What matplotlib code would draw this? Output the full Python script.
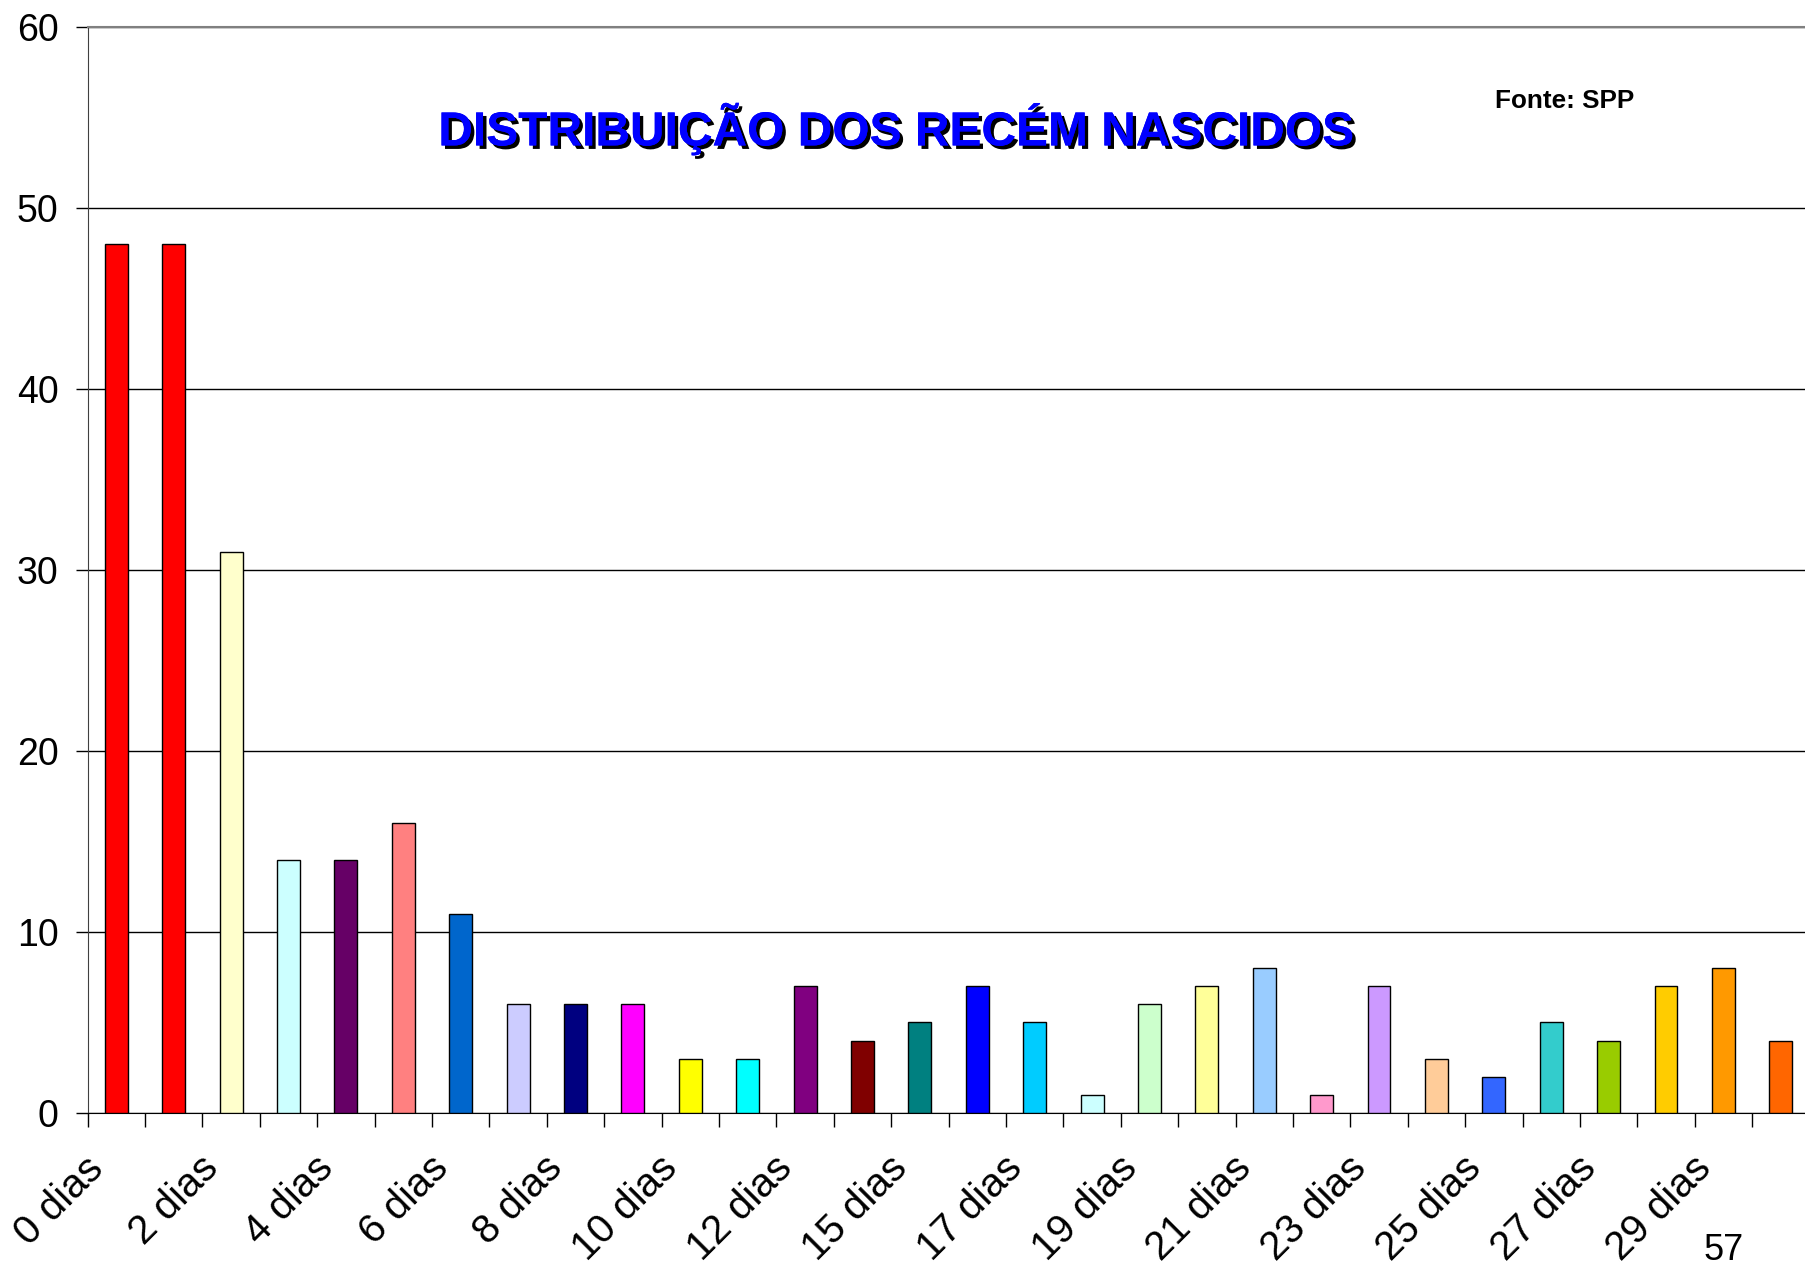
import matplotlib
matplotlib.use("Agg")
import matplotlib.pyplot as plt
import matplotlib.patheffects as pe
import matplotlib.transforms as mtransforms
import numpy as np

plt.rcParams['font.family'] = ['Liberation Sans', 'DejaVu Sans']

# dados (dias de vida e numero de recem nascidos)
dias = [0, 1, 2, 3, 4, 5, 6, 7, 8, 9, 10, 11, 12, 13, 15, 16, 17, 18, 19, 20,
        21, 22, 23, 24, 25, 26, 27, 28, 29, 30]
rotulos = [f"{d} dias" for d in dias]
valores = [48, 48, 31, 14, 14, 16, 11, 6, 6, 6, 3, 3, 7, 4, 5, 7, 5, 1, 6, 7,
           8, 1, 7, 3, 2, 5, 4, 7, 8, 4]
cores = ["#FF0000", "#FF0000", "#FFFFCC", "#CCFFFF", "#660066", "#FF8080",
         "#0066CC", "#CCCCFF", "#000080", "#FF00FF", "#FFFF00", "#00FFFF",
         "#800080", "#800000", "#008080", "#0000FF", "#00CCFF", "#CCFFFF",
         "#CCFFCC", "#FFFF99", "#99CCFF", "#FF99CC", "#CC99FF", "#FFCC99",
         "#3366FF", "#33CCCC", "#99CC00", "#FFCC00", "#FF9900", "#FF6600"]

fig = plt.figure(figsize=(18.05, 12.73), dpi=100)
ax = fig.add_axes([0.0485, 0.1257, 0.954, 0.853])

x = np.arange(len(valores))
ax.bar(x, valores, width=0.4, color=cores, edgecolor="black", linewidth=1, zorder=3)

ax.set_xlim(-0.5, len(valores) - 0.5)
ax.set_ylim(0, 60)
ax.set_yticks(range(0, 61, 10))
ax.yaxis.grid(True, color="black", linewidth=1, zorder=0)
ax.set_axisbelow(True)

# marcas nos limites das categorias, rotulos em categorias alternadas
ax.set_xticks(np.arange(-0.5, len(valores), 1))
ax.set_xticklabels([])
ax.set_xticks(x[::2], minor=True)
ax.set_xticklabels(rotulos[::2], minor=True, rotation=45, ha="right",
                   rotation_mode="anchor", fontsize=29)
ax.tick_params(axis="x", which="minor", length=0, pad=26)
ax.tick_params(axis="x", which="major", length=10, width=1, direction="out")
ax.tick_params(axis="y", length=9, width=1, direction="out", pad=12, labelsize=27)

desloc = mtransforms.ScaledTranslation(-0.32, 0, fig.dpi_scale_trans)
for lab in ax.get_xticklabels(minor=True):
    lab.set_transform(lab.get_transform() + desloc)

ax.spines["right"].set_visible(False)
ax.spines["top"].set_color("#808080")
ax.spines["top"].set_linewidth(1.5)
ax.spines["left"].set_color("#404040")
ax.spines["bottom"].set_color("black")

fig.text(0.4964, 0.8987, "DISTRIBUIÇÃO DOS RECÉM NASCIDOS", fontsize=34.5,
         fontweight="bold", color="#0000FF", ha="center", va="center",
         path_effects=[pe.withSimplePatchShadow(offset=(2.5, -2.5),
                                                shadow_rgbFace="black", alpha=1),
                       pe.Normal()])
fig.text(0.828, 0.9207, "Fonte: SPP", fontsize=18.8, fontweight="bold",
         ha="left", va="center")
fig.text(0.955, 0.004, "57", fontsize=26, ha="center", va="bottom")

fig.savefig("out.png", dpi=100)
